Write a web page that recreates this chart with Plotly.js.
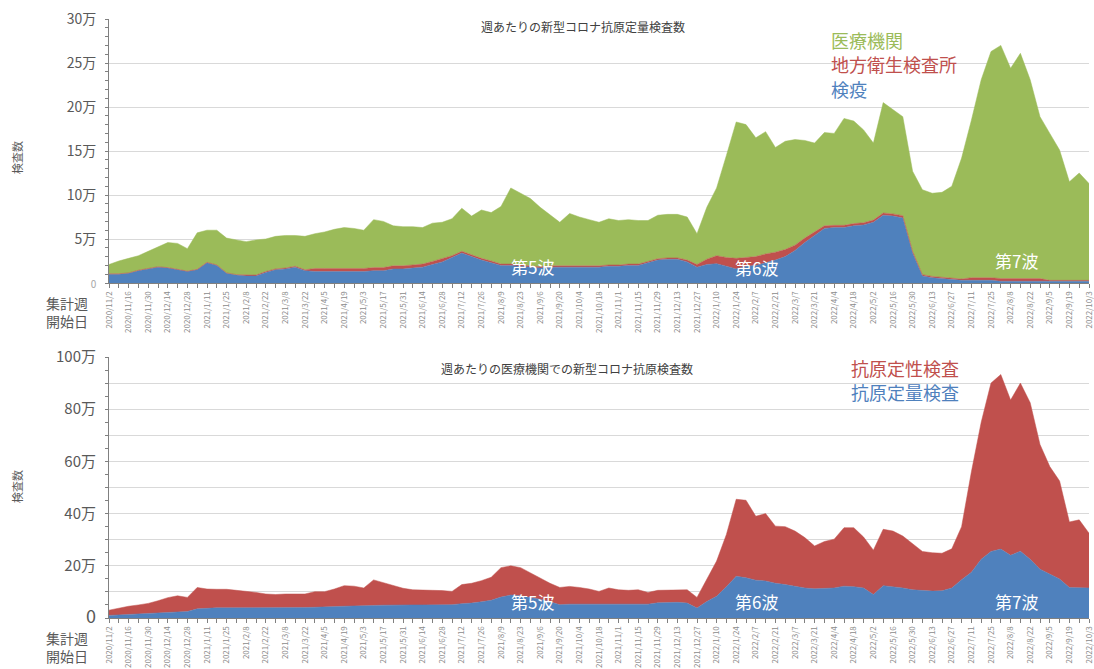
<!DOCTYPE html>
<html><head><meta charset="utf-8">
<script src="https://cdn.plot.ly/plotly-3.0.1.min.js"></script>
<style>html,body{margin:0;padding:0;background:#fff}#chart{width:1094px;height:669px}</style>
</head><body><div id="chart"></div>
<script>
// weekly start dates (集計週開始日)
const DATES = [
 "2020/11/2","2020/11/9","2020/11/16","2020/11/23","2020/11/30","2020/12/7","2020/12/14","2020/12/21","2020/12/28",
 "2021/1/4","2021/1/11","2021/1/18","2021/1/25","2021/2/1","2021/2/8","2021/2/15","2021/2/22",
 "2021/3/1","2021/3/8","2021/3/15","2021/3/22","2021/3/29","2021/4/5","2021/4/12","2021/4/19","2021/4/26",
 "2021/5/3","2021/5/10","2021/5/17","2021/5/24","2021/5/31","2021/6/7","2021/6/14","2021/6/21","2021/6/28",
 "2021/7/5","2021/7/12","2021/7/19","2021/7/26","2021/8/2","2021/8/9","2021/8/16","2021/8/23","2021/8/30",
 "2021/9/6","2021/9/13","2021/9/20","2021/9/27","2021/10/4","2021/10/11","2021/10/18","2021/10/25",
 "2021/11/1","2021/11/8","2021/11/15","2021/11/22","2021/11/29","2021/12/6","2021/12/13","2021/12/20","2021/12/27",
 "2022/1/3","2022/1/10","2022/1/17","2022/1/24","2022/1/31","2022/2/7","2022/2/14","2022/2/21","2022/2/28",
 "2022/3/7","2022/3/14","2022/3/21","2022/3/28","2022/4/4","2022/4/11","2022/4/18","2022/4/25",
 "2022/5/2","2022/5/9","2022/5/16","2022/5/23","2022/5/30","2022/6/6","2022/6/13","2022/6/20","2022/6/27",
 "2022/7/4","2022/7/11","2022/7/18","2022/7/25","2022/8/1","2022/8/8","2022/8/15","2022/8/22","2022/8/29",
 "2022/9/5","2022/9/12","2022/9/19","2022/9/26","2022/10/3"
];
// tick labels: every second week is labelled
const TICK_LABELS = DATES.map((d, i) => (i % 2 === 0 ? d : ""));

// ---- top chart: 抗原定量検査数 (unit: 万) ----
const KENEKI = [1.0,1.0,1.1,1.4,1.6,1.8,1.7,1.5,1.3,1.5,
 2.3,2.0,1.1,0.9,0.8,0.8,1.2,1.5,1.6,1.8,
 1.4,1.3,1.3,1.3,1.3,1.3,1.3,1.4,1.4,1.6,
 1.6,1.7,1.8,2.1,2.4,2.9,3.4,3.0,2.6,2.3,
 2.0,2.0,1.9,1.8,1.7,1.8,1.8,1.8,1.8,1.8,
 1.8,1.9,1.9,2.0,2.0,2.3,2.6,2.7,2.7,2.4,
 1.8,2.1,2.2,1.9,1.6,1.9,2.0,2.3,2.6,3.0,
 3.7,4.6,5.4,6.2,6.3,6.3,6.5,6.6,6.9,7.7,
 7.6,7.4,3.4,0.8,0.6,0.5,0.4,0.3,0.3,0.3,
 0.3,0.2,0.2,0.2,0.2,0.2,0.2,0.2,0.2,0.2,
 0.2];
const CHIHO = [0.05,0.05,0.05,0.05,0.05,0.05,0.05,0.05,0.05,0.05,
 0.05,0.05,0.05,0.05,0.1,0.1,0.1,0.1,0.1,0.1,
 0.1,0.35,0.35,0.35,0.35,0.35,0.35,0.35,0.35,0.35,
 0.35,0.35,0.35,0.35,0.35,0.2,0.2,0.2,0.2,0.2,
 0.15,0.15,0.15,0.15,0.15,0.15,0.15,0.15,0.15,0.15,
 0.15,0.15,0.15,0.15,0.15,0.15,0.15,0.15,0.15,0.2,
 0.3,0.6,0.9,1.0,1.2,1.0,1.0,1.0,0.9,0.8,
 0.6,0.5,0.4,0.3,0.25,0.25,0.25,0.25,0.25,0.25,
 0.25,0.25,0.2,0.15,0.15,0.15,0.15,0.15,0.3,0.3,
 0.3,0.3,0.3,0.3,0.3,0.3,0.1,0.1,0.1,0.1,
 0.1];
const IRYO = [1.05,1.45,1.65,1.65,1.95,2.25,2.85,2.95,2.55,4.15,
 3.65,3.95,3.95,3.95,3.8,4.0,3.7,3.7,3.7,3.5,
 3.8,3.95,4.15,4.45,4.65,4.55,4.35,5.45,5.25,4.55,
 4.45,4.35,4.15,4.35,4.15,4.2,4.9,4.4,5.5,5.5,
 6.55,8.65,8.15,7.65,6.75,5.75,4.95,5.95,5.55,5.25,
 4.95,5.25,5.05,5.05,4.95,4.65,4.95,4.95,4.95,4.9,
 3.5,5.9,7.7,11.6,15.5,15.1,13.5,13.9,11.9,12.3,
 12.0,11.1,10.1,10.6,10.45,12.15,11.65,10.55,8.75,12.55,
 11.85,11.25,9.1,9.65,9.45,9.65,10.45,13.75,17.9,22.5,
 25.7,26.5,23.9,25.6,22.6,18.4,16.7,14.8,11.2,12.2,
 11.0];

// ---- bottom chart: 医療機関での抗原検査数 (unit: 万) ----
const TEIRYO = [1.0,1.2,1.5,1.7,1.9,2.1,2.3,2.5,2.5,3.5,
 3.8,3.9,3.9,3.9,3.9,3.8,3.8,3.8,3.9,3.9,
 4.0,4.1,4.3,4.4,4.5,4.6,4.6,4.8,4.9,5.0,
 5.0,5.0,5.0,5.0,5.0,5.1,5.5,5.7,6.2,6.8,
 8.0,8.8,8.5,7.9,7.2,6.2,5.1,5.3,5.3,5.2,
 5.1,5.2,5.1,5.1,5.2,5.3,5.8,6.0,6.0,5.7,
 3.8,6.3,8.3,12.0,16.0,15.4,14.5,14.2,13.3,12.8,
 12.2,11.5,11.2,11.3,11.5,12.2,12.0,11.5,9.0,12.4,
 12.0,11.5,10.8,10.5,10.3,10.4,11.5,14.7,17.5,22.5,
 25.5,26.4,24.0,25.6,22.5,18.7,16.8,14.9,11.7,11.6,
 11.5];
const TEISEI = [2.0,2.6,3.0,3.3,3.7,4.5,5.5,6.0,5.4,8.2,
 7.3,7.1,7.1,6.7,6.4,6.0,5.4,5.2,5.3,5.3,
 5.2,6.0,5.8,6.7,7.9,7.6,6.9,9.8,8.7,7.4,
 6.4,5.8,5.6,5.6,5.5,5.1,7.3,7.6,8.1,8.8,
 11.3,11.2,10.8,9.4,8.1,7.1,6.6,6.8,6.4,5.9,
 5.1,6.3,5.7,5.5,5.6,4.5,4.8,4.7,4.8,5.1,
 4.1,8.5,13.5,20.0,29.5,29.7,24.5,25.8,21.9,22.2,
 21.1,19.3,16.4,18.0,18.7,22.4,22.6,19.5,17.0,21.6,
 21.3,19.9,17.5,15.0,14.7,14.4,15.0,20.3,38.5,52.5,
 64.5,66.9,59.5,64.4,60.0,47.8,41.2,37.6,25.1,26.0,
 21.0];

const TOP_TICKS = [0,5,10,15,20,25,30];
const TOP_TICKTEXT = ['<span style="font-size:10px;fill:#a6a6a6">0</span>','5万','10万','15万','20万','25万','30万'];
const BOT_TICKS = [0,10,20,30,40,50,60,70,80,90,100];
const BOT_TICKTEXT = ['<span style="font-size:18px">0</span>','','20万','','40万','','60万','','80万','','100万'];

const GREEN = '#9BBB59', RED = '#C0504D', BLUE = '#4F81BD';

function area(y, color, name, xa, ya, grp){
  return {x: DATES, y: y, name: name, type:'scatter', mode:'lines', stackgroup: grp,
    line:{width:0.5, color:color}, fillcolor: color, xaxis: xa, yaxis: ya, hoverinfo:'x+y+name'};
}
const data = [
  area(KENEKI, BLUE, '検疫', 'x', 'y', 'top'),
  area(CHIHO, RED, '地方衛生検査所', 'x', 'y', 'top'),
  area(IRYO, GREEN, '医療機関', 'x', 'y', 'top'),
  area(TEIRYO, BLUE, '抗原定量検査', 'x2', 'y2', 'bot'),
  area(TEISEI, RED, '抗原定性検査', 'x2', 'y2', 'bot')
];

// pixel -> paper helpers (plot area: x 109..1089, y 10..659)
const L = 109, R = 5, T = 10, B = 10, W = 1094, H = 669;
const PW = W - L - R, PH = H - T - B;
const px = x => (x - L) / PW;
const py = y => (H - B - y) / PH;

function xax(anchor){
  return {type:'category', range:[0,100], domain:[0,1], anchor: anchor,
    tickmode:'array', tickvals: DATES, ticktext: TICK_LABELS, tickangle:-90,
    tickfont:{size:8, color:'#8c8c8c'}, ticks:'outside', ticklen:4, tickcolor:'#808080',
    showline:true, linecolor:'#808080', linewidth:1, showgrid:false, zeroline:false, automargin:false};
}
function yax(dom, range, vals, txt, fsize, minorD, anchor){
  return {domain: dom, range: range, anchor: anchor, tickmode:'array', tickvals: vals, ticktext: txt,
    tickfont:{size:fsize, color:'#595959'}, showgrid:true, gridcolor:'#d9d9d9', gridwidth:1,
    zeroline:false, showline:true, linecolor:'#808080', linewidth:1, ticks:'', ticklabelstandoff:9,
    minor:{tickmode:'linear', tick0:0, dtick:minorD, ticks:'outside', ticklen:3, tickcolor:'#808080', showgrid:false},
    automargin:false, fixedrange:true};
}

const ann = [];
function txt(text, x, y, size, color, xanchor, extra){
  ann.push(Object.assign({text:text, xref:'paper', yref:'paper', x:px(x), y:py(y), xanchor:xanchor||'center',
    yanchor:'middle', showarrow:false, font:{size:size, color:color}}, extra||{}));
}
// chart titles
txt('週あたりの新型コロナ抗原定量検査数', 583, 27, 12, '#404040');
txt('週あたりの医療機関での新型コロナ抗原検査数', 567, 368, 12, '#404040');
// legends as text
txt('医療機関', 829, 40, 18, GREEN, 'left');
txt('地方衛生検査所', 829, 64, 18, RED, 'left');
txt('検疫', 829, 89, 18, BLUE, 'left');
txt('抗原定性検査', 849, 368, 18, RED, 'left');
txt('抗原定量検査', 849, 392, 18, BLUE, 'left');
// wave labels
[[532,266],[756,267],[1016,260],[532,601],[756,601],[1016,601]].forEach((p, k) => {
  txt(['第5波','第6波','第7波'][k % 3], p[0], p[1], 17, '#ffffff');
});
// y axis titles and x axis caption
txt('検査数', 17, 158, 11, '#595959', 'center', {textangle:-90});
txt('検査数', 17, 487, 11, '#595959', 'center', {textangle:-90});
txt('集計週<br>開始日', 67, 312, 14, '#595959', 'center');
txt('集計週<br>開始日', 67, 647, 14, '#595959', 'center');

const shapes = [
  {type:'rect', xref:'paper', yref:'paper', x0:px(413), x1:px(753), y0:py(72), y1:py(12), fillcolor:'#ffffff', line:{width:0}, layer:'between'},
  {type:'rect', xref:'paper', yref:'paper', x0:px(418), x1:px(720), y0:py(392), y1:py(350), fillcolor:'#ffffff', line:{width:0}, layer:'between'}
];

const layout = {
  width: W, height: H, margin:{l:L, r:R, t:T, b:B, pad:0},
  paper_bgcolor:'#ffffff', plot_bgcolor:'#ffffff', showlegend:false,
  font:{family:'"Noto Sans CJK JP", "Noto Sans", sans-serif', color:'#595959'},
  xaxis: xax('y'), xaxis2: xax('y2'),
  yaxis: yax([py(283), py(19)], [0,30], TOP_TICKS, TOP_TICKTEXT, 14, 1, 'x'),
  yaxis2: yax([py(618), py(357)], [0,100], BOT_TICKS, BOT_TICKTEXT, 15, 5, 'x2'),
  annotations: ann, shapes: shapes
};
Plotly.newPlot('chart', data, layout, {displayModeBar:false, staticPlot:true});
</script></body></html>
